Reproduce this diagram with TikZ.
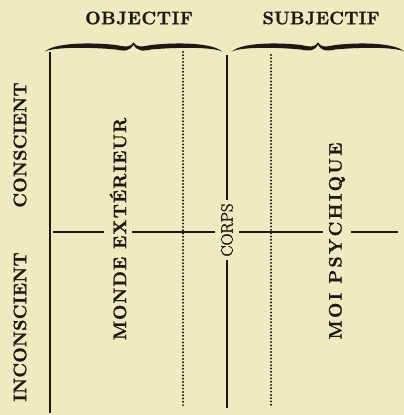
\documentclass[tikz,border=0pt]{standalone}
\usepackage{fontspec}
\newfontfamily\gras{Latin Modern Roman}[BoldFeatures={FakeBold=1.4},UprightFeatures={FakeBold=1.8}]
\definecolor{papier}{RGB}{238,235,192}
\definecolor{encre}{RGB}{28,24,20}
\tikzset{
  titre/.style={font=\fontsize{18}{20}\selectfont\gras\bfseries,text=encre,inner sep=0pt},
  vtitre/.style={titre,rotate=90,inner xsep=2pt,inner ysep=6pt},
  corps/.style={font=\fontsize{16.5}{18}\selectfont\gras,text=encre,rotate=90,inner xsep=3pt,inner ysep=6pt},
  trait/.style={draw=encre,line width=1.8pt},
  fil/.style={draw=encre,line width=1.3pt},
  pointille/.style={draw=encre,line width=2.2pt,line cap=round,dash pattern=on 0pt off 3.3pt},
  accolade/.pic={
    \fill[encre] (-1,8) .. controls (-0.9,-0.5) and (-0.5,-1.5) .. (-0.2,1.5) .. controls (-0.1,3) and (-0.05,5) .. (0,-1.2)
      .. controls (0.05,5) and (0.1,3) .. (0.2,1.5) .. controls (0.5,-1.5) and (0.9,-0.5) .. (1,8)
      .. controls (0.9,3.5) and (0.5,3.5) .. (0.2,6) .. controls (0.1,8) and (0.04,7.5) .. (0,1.2)
      .. controls (-0.04,7.5) and (-0.1,8) .. (-0.2,6) .. controls (-0.5,3.5) and (-0.9,3.5) .. (-1,8) -- cycle;
  }
}
\begin{document}
\begin{tikzpicture}[x=1pt,y=-1pt]
  \fill[papier] (0,0) rectangle (404,415);
  \useasboundingbox (0,0) rectangle (404,415);

  % en-tetes et accolades
  \node[titre] (obj) at (139,18) {\addfontfeature{LetterSpace=4}OBJECTIF};
  \node[titre] (subj) at (321,18) {\addfontfeature{LetterSpace=2}SUBJECTIF};
  \pic[xscale=88.5] at (133.5,43.5) {accolade};
  \pic[xscale=86] at (318,43.5) {accolade};

  % textes verticaux
  \node[vtitre] (consc) at (20,145) {\addfontfeature{LetterSpace=2}CONSCIENT};
  \node[vtitre] (inconsc) at (20,327) {\addfontfeature{LetterSpace=2}INCONSCIENT};
  \node[vtitre] (monde) at (118,229) {\addfontfeature{LetterSpace=6}MONDE EXTÉRIEUR};
  \node[vtitre] (moi) at (337,241) {\addfontfeature{LetterSpace=13}MOI PSYCHIQUE};
  \node[corps] (corps) at (227,230) {CORPS};

  % colonnes
  \coordinate (g1) at (50,52);   \coordinate (g2) at (50,413);
  \coordinate (p1) at (183,52);  \coordinate (p2) at (183,406);
  \coordinate (c1) at (227,55);  \coordinate (c2) at (227,408);
  \coordinate (q1) at (271,55);  \coordinate (q2) at (271,406);
  \coordinate (h1) at (53,232);  \coordinate (h2) at (398,232);

  \draw[trait](g1)--(g2);
  \draw[trait](c1)--(corps.east);
  \draw[trait](corps.west)--(c2);
  \draw[pointille](p1)--(p2);
  \draw[pointille](q1)--(q2);

  % ligne conscient / inconscient
  \draw[fil](h1)--(h1-|monde.north);
  \draw[fil](monde.south|-h1)--(corps.north|-h1);
  \draw[fil](corps.south|-h1)--(moi.north|-h1);
  \draw[fil](moi.south|-h1)--(h2);
\end{tikzpicture}
\end{document}
